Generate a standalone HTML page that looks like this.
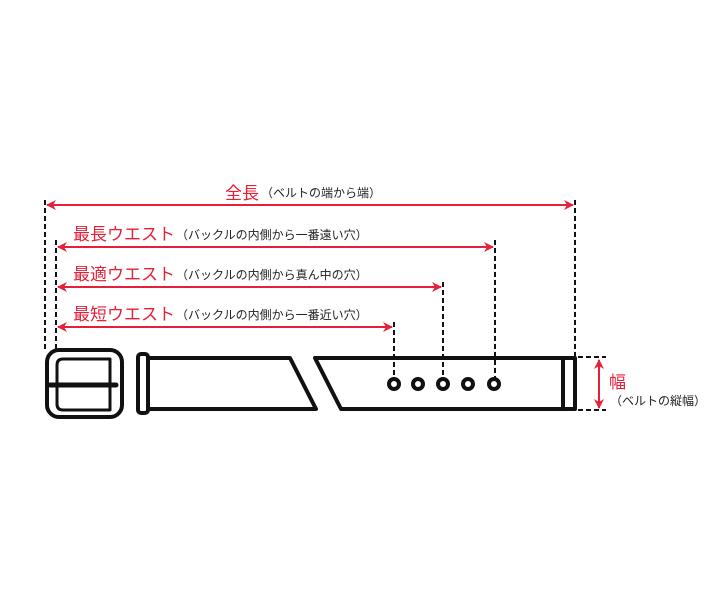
<!DOCTYPE html>
<html><head><meta charset="utf-8"><style>
body{margin:0;background:#fff;}
svg{display:block;}
.r{fill:#e5203a;font-family:"Liberation Sans","Noto Sans CJK JP",sans-serif;font-size:17px;}
.s{fill:#222;font-family:"Liberation Sans","Noto Sans CJK JP",sans-serif;font-size:12px;}
</style></head><body>
<svg width="713" height="602" viewBox="0 0 713 602" xmlns="http://www.w3.org/2000/svg">
<defs>
<marker id="a" viewBox="0 0 10 10" refX="9" refY="5" markerWidth="5" markerHeight="5" orient="auto-start-reverse">
<path d="M0,0 L10,5 L0,10 L3,5 z" fill="#e5203a"/></marker>
</defs>
<g stroke="#111" stroke-width="2" stroke-dasharray="5,3" fill="none">
<line x1="45" y1="200" x2="45" y2="352"/>
<line x1="575" y1="200" x2="575" y2="356"/>
<line x1="56" y1="240" x2="56" y2="352"/>
<line x1="495" y1="240" x2="495" y2="378"/>
<line x1="443" y1="282" x2="443" y2="378"/>
<line x1="394" y1="322" x2="394" y2="378"/>
<line x1="578" y1="357" x2="606" y2="357"/>
<line x1="578" y1="410" x2="606" y2="410"/>
</g>
<g stroke="#e5203a" stroke-width="2" fill="none" marker-start="url(#a)" marker-end="url(#a)">
<line x1="47" y1="205" x2="573" y2="205"/>
<line x1="58" y1="247" x2="493" y2="247"/>
<line x1="58" y1="287" x2="441" y2="287"/>
<line x1="58" y1="327" x2="392" y2="327"/>
<line x1="599" y1="360" x2="599" y2="408"/>
</g>
<text class="r" x="225" y="199">全長</text><text class="s" x="261" y="197">（ベルトの端から端）</text>
<text class="r" x="73" y="240">最長ウエスト</text><text class="s" x="176" y="239">（バックルの内側から一番遠い穴）</text>
<text class="r" x="73" y="280">最適ウエスト</text><text class="s" x="176" y="279">（バックルの内側から真ん中の穴）</text>
<text class="r" x="73" y="320">最短ウエスト</text><text class="s" x="176" y="319">（バックルの内側から一番近い穴）</text>
<text class="r" x="609" y="388">幅</text><text class="s" x="610" y="405">（ベルトの縦幅）</text>
<g stroke="#111" stroke-width="4" fill="none" stroke-linejoin="round">
<rect x="47" y="350" width="75" height="67" rx="12"/>
<path d="M110,359 H63 Q57,359 57,365 V404 Q57,410 63,410 H110 Z" stroke-width="3"/>
<line x1="50" y1="385" x2="116" y2="385" stroke-width="5" stroke-linecap="round"/>
<rect x="138" y="354" width="10" height="59" rx="3"/>
<path d="M148,358 H290 L316,409 H148"/>
<path d="M575,358 H315 L341,409 H575 Z"/>
<line x1="563" y1="358" x2="563" y2="409"/>
</g>
<g fill="none" stroke="#111" stroke-width="4">
<circle cx="394" cy="384" r="5"/><circle cx="418" cy="384" r="5"/><circle cx="443" cy="384" r="5"/><circle cx="468" cy="384" r="5"/><circle cx="494" cy="384" r="5"/>
</g>
</svg>
</body></html>
